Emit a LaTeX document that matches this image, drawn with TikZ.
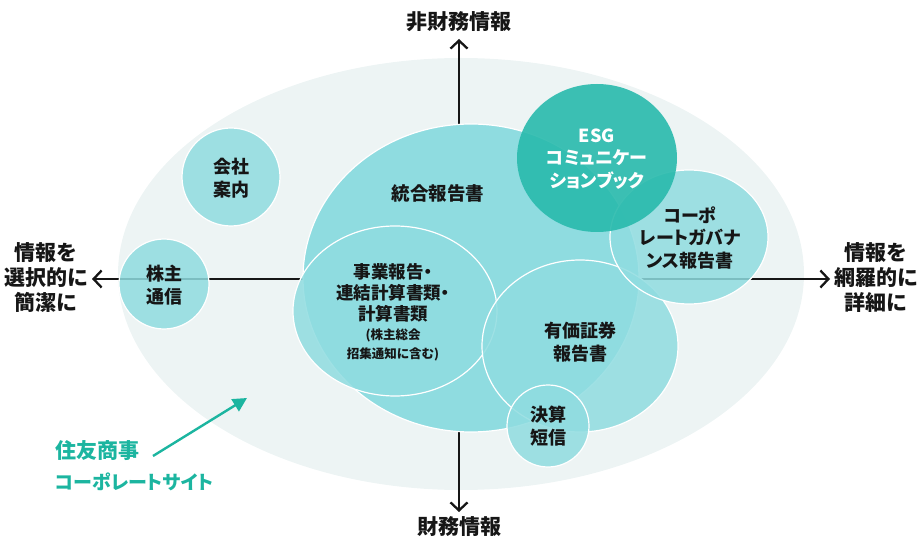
\documentclass[tikz,border=0pt]{standalone}
\usepackage{fontspec}
\setmainfont{Noto Sans CJK JP}[BoldFont=* Black, RawFeature=+palt]
\usetikzlibrary{shapes.geometric,arrows.meta}
\definecolor{bgell}{RGB}{237,244,244}
\definecolor{lightc}{RGB}{143,220,224}
\definecolor{esgc}{RGB}{40,186,172}
\definecolor{greent}{RGB}{28,181,160}
\definecolor{ink}{RGB}{22,22,22}
\newcommand\mysmallfs{\fontsize{12.5}{19}\selectfont}
\newcommand\mysitefs{\fontsize{19}{31}\selectfont}
\begin{document}
\begin{tikzpicture}[x=1pt,y=-1pt,
  bubble/.style={ellipse, fill=lightc, draw=white, line width=1.2pt, inner sep=0pt},
  txt/.style={font=\bfseries\fontsize{18}{22.5}\selectfont, align=center, text=ink, inner sep=0pt},
  axlbl/.style={font=\bfseries\fontsize{21}{25}\selectfont, align=center, text=ink, inner sep=0pt},
  axis/.style={line width=2.3pt, draw=ink, -{Straight Barb[length=8pt,width=17pt]}},
  grn/.style={font=\bfseries\fontsize{21}{31}\selectfont, align=left, text=greent, inner sep=0pt},
]
\useasboundingbox (0,0) rectangle (919,537);
% background ellipse
\node[ellipse, fill=bgell, minimum width=686pt, minimum height=432pt, inner sep=0pt] (bg) at (461,274) {};
% axes
\coordinate (c) at (459,279);
\coordinate (tipN) at (459,39);
\coordinate (tipS) at (459,512);
\coordinate (tipW) at (92,279);
\coordinate (tipE) at (830,279);
\draw[axis] (c) -- (tipN);
\draw[axis] (c) -- (tipS);
\draw[axis] (c) -- (tipW);
\draw[axis] (c) -- (tipE);
\node[axlbl] (lN) at (459,22) {非財務情報};
\node[axlbl] (lS) at (459,527) {財務情報};
\node[axlbl] (lW) at (46,278) {情報を\\選択的に\\簡潔に};
\node[axlbl] (lE) at (876,278) {情報を\\網羅的に\\詳細に};
% bubbles
\node[bubble, minimum width=336pt, minimum height=308pt] (togo) at (471,278) {};
\node[bubble, fill opacity=0.85, minimum width=204pt, minimum height=170pt] (jigyo) at (395,311) {};
\node[bubble, fill opacity=0.85, minimum width=196pt, minimum height=172pt] (yuka) at (580,346) {};
\node[bubble, fill opacity=0.85, minimum width=82pt, minimum height=82pt] (kessan) at (548,426) {};
\node[bubble, fill opacity=0.85, minimum width=158pt, minimum height=134pt] (cg) at (689,237) {};
\node[ellipse, fill=esgc, fill opacity=0.9, inner sep=0pt, minimum width=160pt, minimum height=148pt] (esg) at (597,158) {};
\node[bubble, fill opacity=0.85, minimum width=98pt, minimum height=98pt] (kaisha) at (231,177) {};
\node[bubble, fill opacity=0.85, minimum width=90pt, minimum height=90pt] (kabu) at (164,284) {};
% bubble labels
\node[txt, font=\bfseries\fontsize{18.5}{22}\selectfont] (tTogo) at (438,193) {統合報告書};
\node[txt, font=\bfseries\fontsize{17.5}{21}\selectfont] (tJigyo) at (393,312) {事業報告・\\連結計算書類・\\計算書類\\[-2pt]{\mysmallfs (株主総会}\\[-2pt]{\mysmallfs 招集通知に含む)}};
\node[txt] (tYuka) at (580,342) {有価証券\\報告書};
\node[txt] (tKessan) at (548,426) {決算\\短信};
\node[txt] (tCG) at (690,238) {コーポ\\レートガバナ\\ンス報告書};
\node[txt, text=white] (tESG) at (597,159) {ESG\\コミュニケー\\ションブック};
\node[txt] (tKaisha) at (231,178) {会社\\案内};
\node[txt] (tKabu) at (164,285) {株主\\通信};
% corporate site
\node[grn, anchor=west] (site) at (55,466) {住友商事\\{\mysitefs コーポレートサイト}};
\coordinate (siteTail) at (153,456);
\coordinate (siteTip) at (247,398);
\draw[greent, line width=2.4pt, -{Triangle[length=14pt,width=14pt]}] (siteTail) -- (siteTip);
\end{tikzpicture}
\end{document}
